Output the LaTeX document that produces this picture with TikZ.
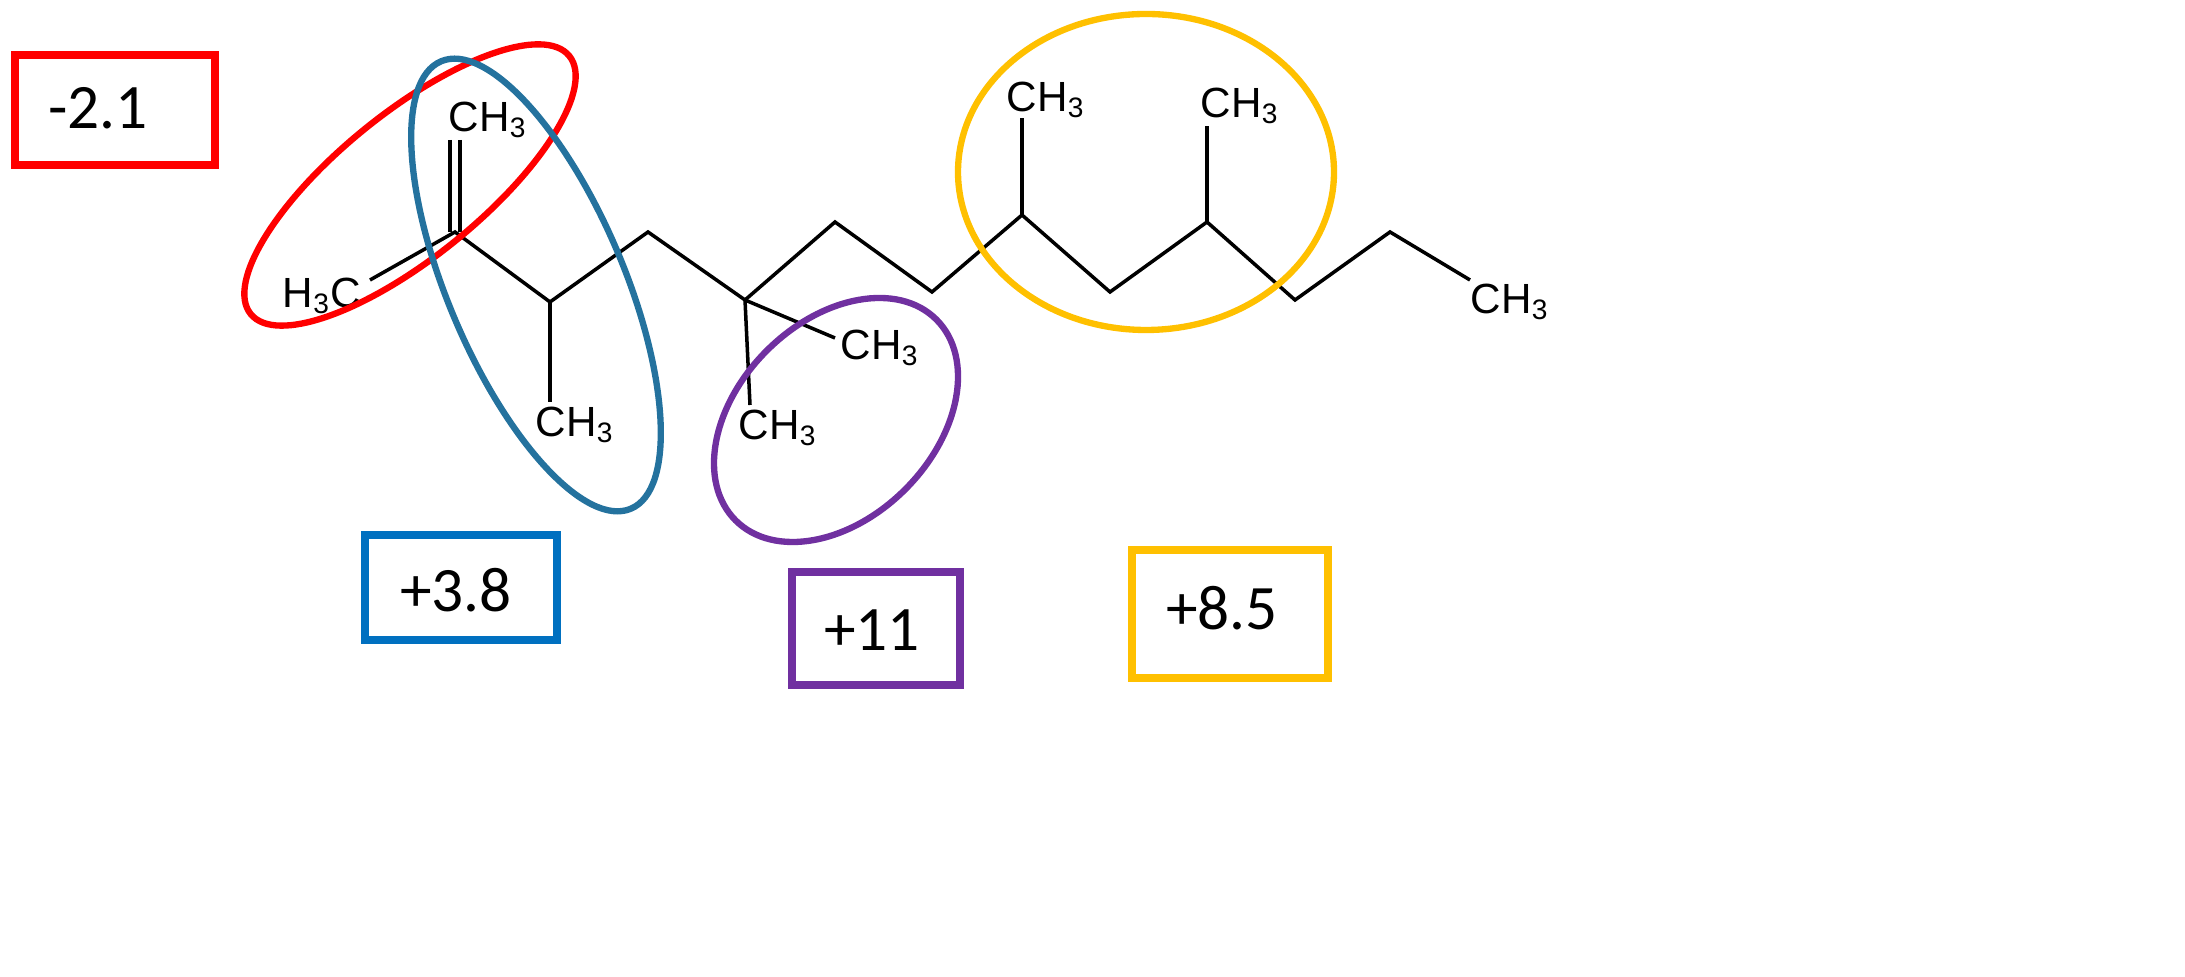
\documentclass[tikz,border=0pt]{standalone}
\usepackage{fontspec}
\setmainfont{Liberation Sans}
\newfontfamily\boxfont{Carlito}
\begin{document}
\begin{tikzpicture}[x=0.01cm,y=-0.01cm,
  bond/.style={line width=1pt,black},
  lbl/.style={font=\fontsize{12}{14}\selectfont,inner sep=1pt},
  valtxt/.style={font=\boxfont\fontsize{18}{20}\selectfont},
  vbox/.style={line width=2.2pt},
  ring/.style={line width=1.8pt}]
\useasboundingbox (0,0) rectangle (2185,977);
\definecolor{ored}{HTML}{FF0000}
\definecolor{oblue}{HTML}{24729E}
\definecolor{bblue}{HTML}{0070C0}
\definecolor{opurp}{HTML}{7030A0}
\definecolor{oyel}{HTML}{FFC000}
% skeleton
\coordinate (c2) at (455,232);
\coordinate (c2a) at (450,232);
\coordinate (c2b) at (460,232);
\coordinate (d1) at (450,140);
\coordinate (d2) at (460,140);
\coordinate (c3) at (550,302);
\coordinate (c4) at (648,232);
\coordinate (c5) at (745,300);
\coordinate (c6) at (835,222);
\coordinate (c7) at (932,292);
\coordinate (c8) at (1022,215);
\coordinate (c9) at (1110,292);
\coordinate (c10) at (1207,222);
\coordinate (c11) at (1295,300);
\coordinate (c12) at (1390,232);
\coordinate (e0) at (370,280);
\coordinate (e3) at (550,402);
\coordinate (e5a) at (835,338);
\coordinate (e5b) at (750,405);
\coordinate (e8) at (1022,118);
\coordinate (e10) at (1207,126);
\coordinate (e13) at (1470,280);
\node[lbl] (m1) at (488,120) {CH\textsubscript{3}};
\node[lbl] (m0) at (322,296) {H\textsubscript{3}C};
\node[lbl] (m3) at (575,425) {CH\textsubscript{3}};
\node[lbl] (m5a) at (880,348) {CH\textsubscript{3}};
\node[lbl] (m5b) at (778,428) {CH\textsubscript{3}};
\node[lbl] (m8) at (1046,100) {CH\textsubscript{3}};
\node[lbl] (m10) at (1240,106) {CH\textsubscript{3}};
\node[lbl] (m13) at (1510,302) {CH\textsubscript{3}};
\draw[bond] (d1) -- (c2a);
\draw[bond] (d2) -- (c2b);
\draw[bond] (e0) -- (c2) -- (c3) -- (c4) -- (c5) -- (c6) -- (c7) -- (c8) -- (c9) -- (c10) -- (c11) -- (c12) -- (e13);
\draw[bond] (c3) -- (e3);
\draw[bond] (c5) -- (e5a);
\draw[bond] (c5) -- (e5b);
\draw[bond] (c8) -- (e8);
\draw[bond] (c10) -- (e10);
% ellipses
\draw[ring,ored] (410,185) ellipse[x radius=205,y radius=72,rotate=39];
\draw[ring,oblue] (536,285) ellipse[x radius=243,y radius=88,rotate=-67];
\draw[ring,opurp] (836,420) ellipse[x radius=142,y radius=98,rotate=45];
\draw[ring,oyel] (1146,172) ellipse[x radius=188,y radius=158];
% boxes
\draw[vbox,ored] (15,55) rectangle (215,165);
\draw[vbox,bblue] (365,535) rectangle (557,640);
\draw[vbox,opurp] (792,572) rectangle (960,685);
\draw[vbox,oyel] (1132,550) rectangle (1328,678);
\node[valtxt] (t1) at (98,108) {-2.1};
\node[valtxt] (t2) at (456,590) {+3.8};
\node[valtxt] (t3) at (872,630) {+11};
\node[valtxt] (t4) at (1222,608) {+8.5};
\end{tikzpicture}
\end{document}
